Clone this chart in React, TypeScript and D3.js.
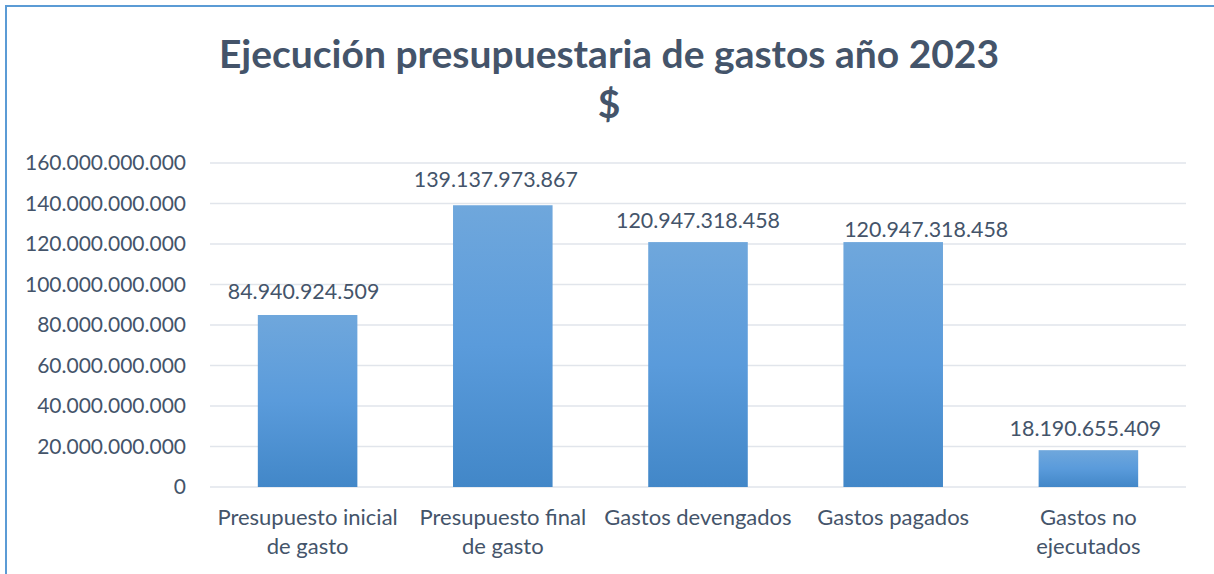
import React from "react";
import * as d3 from "d3";

const categories: string[][] = [
  ["Presupuesto inicial", "de gasto"],
  ["Presupuesto final", "de gasto"],
  ["Gastos devengados"],
  ["Gastos pagados"],
  ["Gastos no", "ejecutados"],
];
const values: number[] = [84940924509, 139137973867, 120947318458, 120947318458, 18190655409];
const yTicks: number[] = [0, 20e9, 40e9, 60e9, 80e9, 100e9, 120e9, 140e9, 160e9];
const titleLines: string[] = ["Ejecución presupuestaria de gastos año 2023", "$"];

const W = 1214;
const H = 574;
const FONT = "Lato, 'Open Sans', sans-serif";
const TEXT = "#44546A";
// manual label nudges as in the original chart (layout, px)
const LABEL_DX = [-4, -7, 0, 33, -3];
const LABEL_DY = [0, -2, 2, 11, 2];

const fmt = (v: number) => {
  const s = Math.round(v).toString();
  return s.replace(/\B(?=(\d{3})+(?!\d))/g, ".");
};

export default function App() {
  const x = d3
    .scaleBand<number>()
    .domain(values.map((_, i) => i))
    .range([210, 1186])
    .paddingInner(0.49)
    .paddingOuter(0.245);
  const y = d3.scaleLinear().domain([0, 160e9]).range([487, 163]);
  const cx = (i: number) => (x(i) as number) + x.bandwidth() / 2;

  return (
    <svg
      width={W}
      height={H}
      style={{ position: "absolute", left: 0, top: 0, background: "#fff" }}
    >
      <defs>
        <linearGradient id="barGrad" x1="0" y1="0" x2="0" y2="1">
          <stop offset="0%" stopColor="#6FA7DC" />
          <stop offset="50%" stopColor="#5A9BDB" />
          <stop offset="100%" stopColor="#4287C8" />
        </linearGradient>
      </defs>
      <rect x={0} y={0} width={W} height={H} fill="#fff" />
      <line x1={6} y1={5} x2={6} y2={H} stroke="#5B9BD5" strokeWidth={2} />
      <line x1={5} y1={6} x2={W} y2={6} stroke="#5B9BD5" strokeWidth={2} />

      {titleLines.map((t, i) => (
        <text
          key={i}
          x={609}
          y={68 + i * 50}
          textAnchor="middle"
          fontFamily={FONT}
          fontWeight={700}
          fontSize={39}
          fill={TEXT}
        >
          {t}
        </text>
      ))}

      {yTicks.map((t) => (
        <g key={t}>
          <line x1={210} x2={1186} y1={y(t)} y2={y(t)} stroke="#E1E5EB" strokeWidth={1.5} />
          <text
            x={186}
            y={y(t)}
            dy="0.35em"
            textAnchor="end"
            fontFamily={FONT}
            fontSize={21}
            fill={TEXT}
          >
            {fmt(t)}
          </text>
        </g>
      ))}

      {values.map((v, i) => (
        <g key={i}>
          <rect
            x={x(i)}
            y={y(v)}
            width={x.bandwidth()}
            height={y(0) - y(v)}
            fill="url(#barGrad)"
          />
          <text
            x={cx(i) + LABEL_DX[i]}
            y={y(v) - 16 + LABEL_DY[i]}
            textAnchor="middle"
            fontFamily={FONT}
            fontSize={21.4}
            fill={TEXT}
          >
            {fmt(v)}
          </text>
        </g>
      ))}

      {categories.map((lines, i) => (
        <text
          key={i}
          textAnchor="middle"
          fontFamily={FONT}
          fontSize={22}
          fill={TEXT}
        >
          {lines.map((l, j) => (
            <tspan key={j} x={cx(i)} y={525 + j * 29}>
              {l}
            </tspan>
          ))}
        </text>
      ))}
    </svg>
  );
}
